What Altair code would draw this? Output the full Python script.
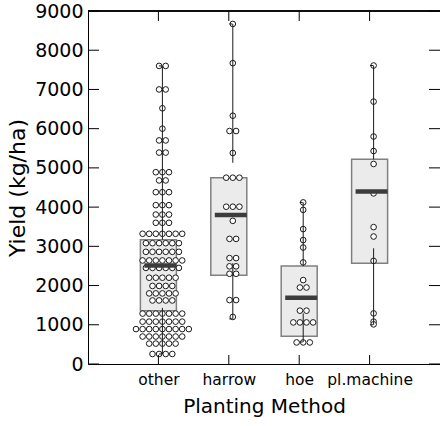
import json
import altair as alt
import pandas as pd

# ---------------- data ----------------
categories = ["other", "harrow", "hoe", "pl.machine"]

# box summary (kg/ha)
box_q1 = [1360, 2260, 710, 2570]
box_median = [2510, 3800, 1690, 4400]
box_q3 = [3170, 4750, 2500, 5220]
# whisker segments (upper: top->bottom, lower: top->bottom)
whisk_hi_top = [7600, 8670, 4120, 7610]
whisk_hi_bot = [3170, 5130, 2500, 5220]
whisk_lo_top = [1430, 2570, 1290, 2950]
whisk_lo_bot = [255, 1150, 560, 1000]

other_yield = [
    7600, 7600,
    7000, 7000,
    6520,
    6000,
    5700, 5700,
    5390, 5390,
    4890, 4890, 4890,
    4680, 4680,
    4380, 4380, 4380,
    4050, 4050, 4050,
    3810, 3810, 3810,
    3600, 3600, 3600,
    3320, 3320, 3320, 3320, 3320, 3320, 3320,
    3080, 3080, 3080, 3080, 3080, 3080,
    2860, 2860, 2860, 2860, 2860, 2860,
    2640, 2640, 2640, 2640, 2640, 2640, 2640,
    2450, 2450, 2450, 2450, 2450, 2450,
    2200, 2200, 2200, 2200, 2200,
    1990, 1990, 1990, 1990,
    1800, 1800, 1800, 1800, 1800,
    1620, 1620, 1620, 1620,
    1285, 1285, 1285, 1285, 1285, 1285, 1285,
    1080, 1080, 1080, 1080, 1080, 1080, 1080,
    890, 890, 890, 890, 890, 890, 890, 890, 890,
    700, 700, 700, 700, 700, 700, 700,
    520, 520, 520, 520, 520,
    255, 255, 255, 255,
]
harrow_yield = [
    8670, 7670, 6330, 5940, 5940, 5380,
    4750, 4750, 4750,
    4010, 4010, 4010,
    3650, 3190, 3190,
    2700, 2700, 2490, 2490, 2300, 2300,
    1630, 1630, 1200,
]
hoe_yield = [
    4120, 3930, 3440, 3160, 2970, 2590, 2140,
    1950, 1950, 1360, 1360,
    1060, 1060, 1060, 1060,
    550, 550, 550,
]
plmachine_yield = [
    7610, 6690, 5800, 5430, 5100, 4350, 3490, 3250, 2630, 1290, 1080, 1010,
]
y_ticks = [0, 1000, 2000, 3000, 4000, 5000, 6000, 7000, 8000, 9000]

# ---------------- layout constants ----------------
W, H = 352, 353
STEP = W / 5.0          # pixels per category unit (domain -1..4)
DOT = 6.6               # beeswarm spacing in px
BOX_HALF = 18 / STEP    # half box width in category units
SHIFT = 4               # px shift of whiskers / dots / medians
FONT = "DejaVu Sans"

# ---------------- tables ----------------
frames = []
for i, vals in enumerate([other_yield, harrow_yield, hoe_yield, plmachine_yield]):
    d = pd.DataFrame({"yield": vals})
    d["k"] = d.groupby("yield")["yield"].transform("size")
    d["j"] = d.groupby("yield").cumcount()
    d["pos"] = i + (d["j"] - (d["k"] - 1) / 2.0) * DOT / STEP
    d["method"] = categories[i]
    frames.append(d)
pts = pd.concat(frames, ignore_index=True)

stats = pd.DataFrame({
    "idx": list(range(len(categories))),
    "method": categories,
    "q1": box_q1, "med": box_median, "q3": box_q3,
    "hi_top": whisk_hi_top, "hi_bot": whisk_hi_bot,
    "lo_top": whisk_lo_top, "lo_bot": whisk_lo_bot,
})
ticks_df = pd.DataFrame({"v": y_ticks})

# ---------------- scales / axes ----------------
xscale = alt.Scale(domain=[-1, 4], nice=False, zero=False)
yscale = alt.Scale(domain=[0, 9000], nice=False, zero=True)
label_expr = json.dumps(categories) + "[datum.value]"
xaxis = alt.Axis(values=[0, 1, 2, 3], labelExpr=label_expr, ticks=False, grid=False,
                 domain=True, domainColor="black", domainWidth=1,
                 labelFontSize=15.5, labelPadding=8, labelColor="black", labelFont=FONT,
                 titleFontSize=20, titleFontWeight="normal", titleColor="black", titleFont=FONT,
                 titlePadding=9)
yaxis = alt.Axis(values=y_ticks, format="d", ticks=False, grid=False, domain=True,
                 domainColor="black", domainWidth=1, labelFontSize=19, labelPadding=5,
                 labelColor="black", labelFont=FONT, titleFontSize=22,
                 titleFontWeight="normal", titleColor="black", titleFont=FONT,
                 titlePadding=5)

XT = "Planting Method"
YT = "Yield (kg/ha)"


def X(f):
    return alt.X(f, type="quantitative", scale=xscale, axis=xaxis, title=XT)


def Y(f):
    return alt.Y(f, type="quantitative", scale=yscale, axis=yaxis, title=YT)


sbase = alt.Chart(stats)

boxes = sbase.transform_calculate(
    xl=f"datum.idx - {BOX_HALF}", xr=f"datum.idx + {BOX_HALF}"
).mark_rect(fill="#ebebeb", stroke="#808080", strokeWidth=1.5).encode(
    x=X("xl"), x2="xr", y=Y("q1"), y2="q3"
)

dots = alt.Chart(pts).mark_point(
    shape="circle", size=32, filled=False, fill="white", fillOpacity=1,
    stroke="#1a1a1a", strokeWidth=1, opacity=1, xOffset=SHIFT
).encode(x=X("pos"), y=Y("yield"))

whisk_hi = sbase.mark_rule(color="#1a1a1a", strokeWidth=1, xOffset=SHIFT).encode(
    x=X("idx"), y=Y("hi_top"), y2="hi_bot")
whisk_lo = sbase.mark_rule(color="#1a1a1a", strokeWidth=1, xOffset=SHIFT).encode(
    x=X("idx"), y=Y("lo_top"), y2="lo_bot")

cap_half = 3.5 / STEP
caps_top = sbase.transform_calculate(
    a=f"datum.idx - {cap_half}", b=f"datum.idx + {cap_half}"
).mark_rule(color="#1a1a1a", strokeWidth=1, xOffset=SHIFT).encode(
    x=X("a"), x2="b", y=Y("hi_top"))
caps_bot = sbase.transform_calculate(
    a=f"datum.idx - {cap_half}", b=f"datum.idx + {cap_half}"
).mark_rule(color="#1a1a1a", strokeWidth=1, xOffset=SHIFT).encode(
    x=X("a"), x2="b", y=Y("lo_bot"))

med = sbase.transform_calculate(
    a=f"datum.idx - {BOX_HALF}", b=f"datum.idx + {BOX_HALF}"
).mark_rule(color="#3c3c3c", strokeWidth=4.5, xOffset=SHIFT).encode(
    x=X("a"), x2="b", y=Y("med"))

# inward ticks and top frame line
tbase = alt.Chart(ticks_df)
left_ticks = tbase.mark_rule(color="black", strokeWidth=1).encode(
    y=Y("v"), x=alt.value(0), x2=alt.value(11))
right_ticks = tbase.mark_rule(color="black", strokeWidth=1).encode(
    y=Y("v"), x=alt.value(W - 11), x2=alt.value(W))
top_ticks = sbase.mark_rule(color="black", strokeWidth=1).encode(
    x=X("idx"), y=alt.value(0), y2=alt.value(10))
bottom_ticks = sbase.mark_rule(color="black", strokeWidth=1).encode(
    x=X("idx"), y=alt.value(H - 9), y2=alt.value(H))
top_line = sbase.mark_rule(color="black", strokeWidth=1).encode(
    x=alt.value(0), x2=alt.value(W), y=alt.value(0))

chart = alt.layer(
    boxes, dots, whisk_hi, whisk_lo, caps_top, caps_bot, med,
    left_ticks, right_ticks, top_ticks, bottom_ticks, top_line,
).properties(
    width=W, height=H, autosize="none",
    padding={"left": 88, "top": 11, "right": 0, "bottom": 62},
    background="white",
).configure_view(stroke=None)

chart.save("out.html", embed_options={"renderer": "svg", "actions": False})
